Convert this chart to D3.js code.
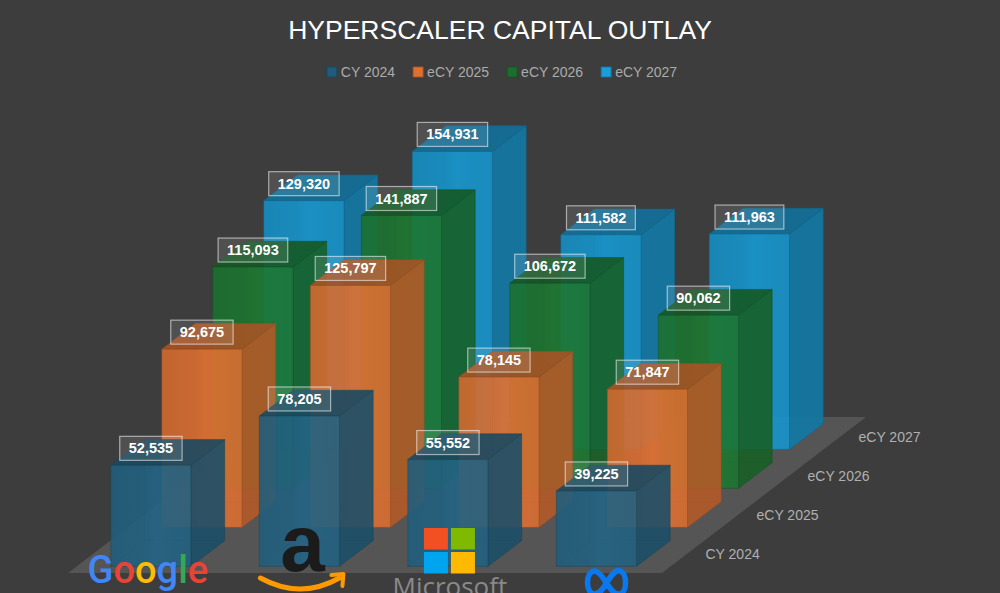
<!DOCTYPE html>
<html>
<head>
<meta charset="utf-8">
<script src="https://cdn.jsdelivr.net/npm/d3@7"></script>
<style>
  body { margin: 0; background: #3d3d3d; }
  svg { display: block; }
</style>
</head>
<body>
<div id="figure"></div>
<script>
var companies = ["Google", "Amazon", "Microsoft", "Meta"];
var seriesNames = ["CY 2024", "eCY 2025", "eCY 2026", "eCY 2027"];
var cy2024 = [52535, 78205, 55552, 39225];
var ecy2025 = [92675, 125797, 78145, 71847];
var ecy2026 = [115093, 141887, 106672, 90062];
var ecy2027 = [129320, 154931, 111582, 111963];
var seriesValues = [cy2024, ecy2025, ecy2026, ecy2027];

var frontColors = ["#22607f", "#d96d31", "#1c7430", "#1693c9"];
var legendColors = ["#1f5c7c", "#e07030", "#1b6e2e", "#1a9dd8"];

const width = 1000, height = 593;
const floorY = 573;
const rowStep = { x: 51, y: 39 };

const svg = d3.select("#figure")
    .append("svg")
    .attr("width", width)
    .attr("height", height);

svg.append("rect")
    .attr("width", width)
    .attr("height", height)
    .attr("fill", "#3d3d3d");

// category axis (front plane) and depth axis (series rows)
const x = d3.scaleBand()
    .domain(companies)
    .range([68, 662])
    .paddingInner(0.46)
    .paddingOuter(0.23);

const z = d3.scaleBand()
    .domain(seriesNames)
    .range([0, seriesNames.length])
    .paddingInner(0.34)
    .paddingOuter(0.17);

const y = d3.scaleLinear()
    .domain([0, 160000])
    .range([0, 307.7]);

function proj(px, d, h) {
    return [px + d * rowStep.x, floorY - d * rowStep.y - h];
}
function poly(pts) {
    return "M" + pts.map(p => p.join(",")).join("L") + "Z";
}

const defs = svg.append("defs");
frontColors.forEach(function (c, i) {
    const g = defs.append("linearGradient")
        .attr("id", "front" + i)
        .attr("x1", "0%").attr("x2", "100%");
    g.append("stop").attr("offset", "0%").attr("stop-color", d3.color(c).darker(0.1));
    g.append("stop").attr("offset", "40%").attr("stop-color", c);
    g.append("stop").attr("offset", "55%").attr("stop-color", d3.color(c).brighter(0.12));
    g.append("stop").attr("offset", "100%").attr("stop-color", c);
});

// title
svg.append("text")
    .attr("x", width / 2)
    .attr("y", 39)
    .attr("text-anchor", "middle")
    .attr("font-family", "Liberation Sans, Arial, sans-serif")
    .attr("font-size", 26.5)
    .attr("fill", "#ffffff")
    .text("HYPERSCALER CAPITAL OUTLAY");

// legend
const legend = svg.append("g");
let lx = 0;
seriesNames.forEach(function (s, i) {
    const item = legend.append("g").attr("transform", `translate(${lx},0)`);
    item.append("rect")
        .attr("x", 0).attr("y", 67)
        .attr("width", 10).attr("height", 10)
        .attr("fill", legendColors[i])
        .attr("stroke", d3.color(legendColors[i]).darker(0.8))
        .attr("stroke-width", 0.8);
    const t = item.append("text")
        .attr("x", 14).attr("y", 77)
        .attr("font-family", "Liberation Sans, Arial, sans-serif")
        .attr("font-size", 14)
        .attr("fill", "#ababab")
        .text(s);
    lx += 14 + t.node().getComputedTextLength() + 18;
});
legend.attr("transform", `translate(${(width - (lx - 18)) / 2 + 2},0)`);

// floor
const nRows = seriesNames.length;
svg.append("path")
    .attr("d", poly([proj(68, 0, 0), proj(662, 0, 0), proj(662, nRows, 0), proj(68, nRows, 0)]))
    .attr("fill", "#555555");

// row labels on the right
seriesNames.forEach(function (s) {
    const p = proj(662, z(s) + z.bandwidth() / 2, 0);
    svg.append("text")
        .attr("x", p[0] + 18)
        .attr("y", p[1] + 5)
        .attr("font-family", "Liberation Sans, Arial, sans-serif")
        .attr("font-size", 14)
        .attr("fill", "#b0b0b0")
        .text(s);
});

// bars, back rows first
const bw = x.bandwidth(), zb = z.bandwidth();
const bars = svg.append("g");
for (let si = nRows - 1; si >= 0; si--) {
    const s = seriesNames[si];
    const col = d3.color(frontColors[si]);
    companies.forEach(function (c, ci) {
        const v = seriesValues[si][ci];
        const h = y(v);
        const x0 = x(c), x1 = x0 + bw, d0 = z(s), d1 = d0 + zb;
        const g = bars.append("g").attr("fill-opacity", 0.9);
        const edge = col.darker(1).formatHex();

        g.append("path")
            .attr("d", `M${proj(x0, d1, 0)}L${proj(x0, d1, h)}M${proj(x0, d1, 0)}L${proj(x1, d1, 0)}M${proj(x0, d0, 0)}L${proj(x0, d1, 0)}`)
            .attr("stroke", "rgba(0,0,0,0.25)")
            .attr("fill", "none");
        g.append("path")
            .attr("d", poly([proj(x1, d0, 0), proj(x1, d1, 0), proj(x1, d1, h), proj(x1, d0, h)]))
            .attr("fill", col.darker(0.55))
            .attr("stroke", edge).attr("stroke-width", 0.8).attr("stroke-opacity", 0.6);
        g.append("path")
            .attr("d", poly([proj(x0, d0, h), proj(x1, d0, h), proj(x1, d1, h), proj(x0, d1, h)]))
            .attr("fill", col.darker(0.75))
            .attr("stroke", edge).attr("stroke-width", 0.8).attr("stroke-opacity", 0.6);
        g.append("path")
            .attr("d", poly([proj(x0, d0, 0), proj(x1, d0, 0), proj(x1, d0, h), proj(x0, d0, h)]))
            .attr("fill", `url(#front${si})`)
            .attr("stroke", edge).attr("stroke-width", 0.8).attr("stroke-opacity", 0.6);

        // value label
        const top = proj(x0 + bw / 2, d0, h);
        const lab = g.append("g").attr("transform", `translate(${top[0]},${top[1] - 17})`);
        const box = lab.append("rect");
        const t = lab.append("text")
            .attr("text-anchor", "middle")
            .attr("y", 5)
            .attr("font-family", "Liberation Sans, Arial, sans-serif")
            .attr("font-weight", "bold")
            .attr("font-size", 14.5)
            .attr("fill", "#ffffff")
            .attr("fill-opacity", 1)
            .text(d3.format(",")(v));
        const tw = t.node().getComputedTextLength() + 18;
        box.attr("x", -tw / 2).attr("y", -12)
            .attr("width", tw).attr("height", 24)
            .attr("fill", "rgba(255,255,255,0.1)")
            .attr("fill-opacity", 1)
            .attr("stroke", "rgba(255,255,255,0.55)")
            .attr("stroke-width", 1.2);
    });
}

// company logos under the front row
const logos = svg.append("g");
companies.forEach(function (c) {
    const cx = proj(x(c) + bw / 2, z(seriesNames[0]), 0)[0];
    const lg = logos.append("g").attr("transform", `translate(${cx},0)`);
    if (c === "Google") {
        const t = lg.append("text")
            .attr("x", -3).attr("y", 583)
            .attr("text-anchor", "middle")
            .attr("font-family", "Roboto, Open Sans, sans-serif")
            .attr("font-weight", 500)
            .attr("font-size", 38);
        [["G", "#4285F4"], ["o", "#EA4335"], ["o", "#FBBC05"], ["g", "#4285F4"], ["l", "#34A853"], ["e", "#EA4335"]]
            .forEach(p => t.append("tspan").attr("fill", p[1]).text(p[0]));
    } else if (c === "Amazon") {
        lg.append("text")
            .attr("x", 3).attr("y", 571)
            .attr("text-anchor", "middle")
            .attr("font-family", "Liberation Sans, Arial, sans-serif")
            .attr("font-weight", "bold")
            .attr("font-size", 80)
            .attr("fill", "#1b1b1b")
            .text("a");
        lg.append("path")
            .attr("d", "M-39,578 Q1,600 40,578")
            .attr("fill", "none").attr("stroke", "#FF9900")
            .attr("stroke-width", 5).attr("stroke-linecap", "round");
        lg.append("path")
            .attr("d", "M32,575 L44,574 L43,586")
            .attr("fill", "none").attr("stroke", "#FF9900")
            .attr("stroke-width", 4).attr("stroke-linecap", "round").attr("stroke-linejoin", "round");
    } else if (c === "Microsoft") {
        [["#F25022", 0, 0], ["#7FBA00", 1, 0], ["#00A4EF", 0, 1], ["#FFB900", 1, 1]].forEach(function (q) {
            lg.append("rect")
                .attr("x", -24 + q[1] * 27).attr("y", 528 + q[2] * 24)
                .attr("width", 24).attr("height", 21.5)
                .attr("fill", q[0]);
        });
        lg.append("text")
            .attr("x", 2).attr("y", 596)
            .attr("text-anchor", "middle")
            .attr("font-family", "Open Sans, sans-serif")
            .attr("font-size", 26)
            .attr("fill", "#8a8a8a")
            .text("Microsoft");
    } else {
        lg.append("path")
            .attr("transform", "translate(10,583)")
            .attr("d", "M0,0 C-6,-10 -11,-14 -15,-11 C-21,-6 -20,11 -12,11 C-6,11 -3,5 0,0 C5,-8 9,-14 14,-12 C21,-9 21,10 13,11 C8,12 4,6 0,0 Z")
            .attr("fill", "none")
            .attr("stroke", "#0a78f0")
            .attr("stroke-width", 5.5);
    }
});
</script>
</body>
</html>
